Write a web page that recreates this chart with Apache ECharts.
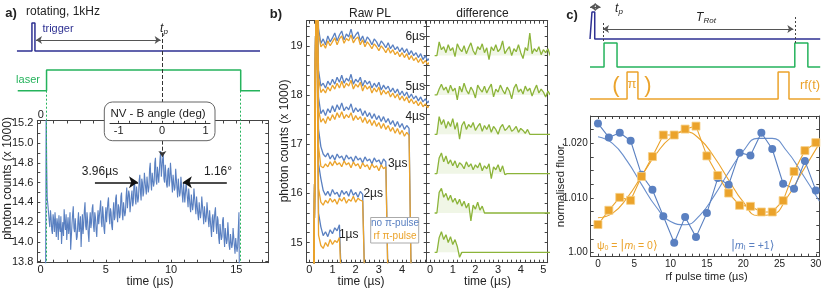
<!DOCTYPE html>
<html><head><meta charset="utf-8">
<script src="https://cdn.jsdelivr.net/npm/echarts@6/dist/echarts.min.js"></script>
<style>html,body{margin:0;padding:0;background:#fff}#c{width:830px;height:291px}</style>
</head><body><div id="c"></div>
<script>
// ---------- Panel a: photon counts vs time ----------
const aStart = 0.5, aStep = 0.05;
const aCounts = [
14.45,14.38,14.30,14.22,14.15,14.32,14.25,14.12,14.08,14.28,14.22,14.10,14.30,14.18,14.05,14.24,14.18,14.02,14.27,14.15,
14.10,14.26,13.98,14.12,14.20,14.06,14.33,14.20,14.12,14.28,14.02,14.16,14.25,14.08,14.15,14.30,13.92,14.05,14.18,14.28,
14.36,14.14,14.10,14.24,14.22,14.02,14.05,14.20,14.30,14.10,14.15,14.26,13.95,14.12,14.28,14.08,14.18,14.32,14.40,14.16,
14.12,14.30,14.22,14.08,14.00,14.20,14.30,14.14,14.20,14.34,14.38,14.16,14.10,14.30,14.25,14.12,14.05,14.22,14.32,14.18,
14.18,14.34,14.42,14.20,14.15,14.36,14.28,14.14,14.08,14.24,14.35,14.20,14.22,14.40,14.45,14.26,14.18,14.34,14.30,14.16,
14.12,14.30,14.40,14.22,14.25,14.44,14.48,14.28,14.20,14.38,14.35,14.24,14.28,14.46,14.50,14.30,14.22,14.40,14.42,14.26,
14.30,14.46,14.55,14.34,14.35,14.52,14.48,14.30,14.28,14.46,14.52,14.36,14.40,14.58,14.62,14.44,14.38,14.56,14.55,14.40,
14.45,14.62,14.68,14.50,14.42,14.64,14.60,14.46,14.50,14.70,14.72,14.54,14.48,14.66,14.65,14.50,14.55,14.74,14.80,14.60,
14.52,14.70,14.72,14.56,14.60,14.80,14.85,14.62,14.58,14.76,14.78,14.60,14.62,14.84,14.92,14.66,14.65,14.84,14.88,14.64,
14.60,14.78,14.80,14.58,14.55,14.72,14.75,14.56,14.62,14.80,14.82,14.60,14.50,14.68,14.70,14.52,14.55,14.74,14.72,14.54,
14.45,14.64,14.62,14.46,14.50,14.66,14.68,14.48,14.40,14.60,14.58,14.40,14.42,14.60,14.62,14.44,14.35,14.54,14.52,14.36,
14.30,14.48,14.48,14.32,14.38,14.54,14.55,14.36,14.28,14.46,14.45,14.28,14.22,14.40,14.40,14.24,14.30,14.46,14.48,14.28,
14.18,14.36,14.35,14.20,14.25,14.40,14.42,14.22,14.15,14.32,14.30,14.14,14.05,14.24,14.28,14.10,14.12,14.30,14.35,14.16,
14.08,14.26,14.22,14.04,13.98,14.18,14.20,14.02,14.05,14.22,14.25,14.06,13.95,14.14,14.15,13.98,14.02,14.20,14.18,13.96,
13.92,14.08,14.10,13.94,13.98,14.14,14.12,13.96,13.88,14.04,14.05,13.90,13.95];
const aRise = [[0.38,13.70],[0.42,15.40],[0.46,14.80]];
const aFall = [[15.20,14.30],[15.23,13.70]];
const aXLabels = [0,5,10,15];
const aYLabels = [13.8,14.0,14.2,14.4,14.6,14.8,15.0,15.2];
const nvLabels = [-1,0,1];
// schematic a (levels on schematic axis, time in µs)
const saTrigger = [[-1.82,4.9],[-0.67,4.9],[-0.67,7.7],[-0.44,7.7],[-0.44,4.9],[16.82,4.9]];
const saLaser = [[-1.76,0.93],[0.45,0.93],[0.45,3.0],[15.34,3.0],[15.34,0.93],[16.82,0.93]];
const saLaserMarks = [0.45,15.34];
const aPeakTime = 9.33;
// ---------- Panel b ----------
const bStart = 0.2, bStep = 0.1;
const bBlue6 = [14.0,21.0,19.35,19.05,19.14,19.02,19.20,19.08,19.16,19.26,19.10,19.22,19.30,19.12,19.24,19.18,19.34,19.14,19.22,19.28,19.10,19.20,19.06,19.18,19.12,19.02,19.14,19.08,18.98,19.10,19.04,18.96,19.06,18.94,19.02,18.92,18.98,18.88,18.96,18.86,18.94,18.82,18.90,18.80,18.86,18.76,18.84,18.72,18.80,18.70,18.76];
const bOrange6 = [14.0,21.0,19.25,18.98,19.04,18.95,19.10,19.00,19.08,19.16,19.02,19.14,19.20,19.05,19.15,19.10,19.22,19.06,19.14,19.18,19.02,19.12,18.98,19.08,19.02,18.94,19.04,18.98,18.90,19.00,18.94,18.86,18.96,18.85,18.92,18.82,18.88,18.78,18.86,18.76,18.84,18.72,18.80,18.70,18.76,18.66,18.74,18.64,18.70,18.62,18.68];
const bBlue5 = [14.0,21.0,18.50,18.18,18.24,18.14,18.28,18.20,18.32,18.22,18.36,18.26,18.40,18.24,18.34,18.28,18.42,18.22,18.32,18.26,18.36,18.18,18.30,18.22,18.28,18.14,18.24,18.16,18.26,18.10,18.20,18.12,18.18,18.06,18.14,18.04,18.12,18.00,18.08,17.98,18.06,17.94,18.02,17.92,17.98,17.88,17.96,17.86,17.92,17.84,17.90];
const bOrange5 = [14.0,21.0,18.35,18.05,18.12,18.04,18.16,18.08,18.20,18.12,18.24,18.14,18.28,18.14,18.24,18.18,18.30,18.12,18.22,18.16,18.26,18.08,18.20,18.12,18.18,18.04,18.14,18.06,18.16,18.00,18.10,18.02,18.08,17.96,18.04,17.94,18.02,17.90,17.98,17.88,17.96,17.84,17.92,17.82,17.88,17.78,17.86,17.76,17.82,17.74,17.80];
const bBlue4 = [14.0,21.0,17.95,17.62,17.70,17.58,17.72,17.64,17.78,17.66,17.80,17.70,17.84,17.68,17.76,17.70,17.82,17.64,17.74,17.66,17.72,17.58,17.68,17.56,17.64,17.52,17.62,17.50,17.58,17.46,17.56,17.44,17.52,17.40,17.48,17.36,17.46,17.34,17.42,17.30,17.38,17.32,14.0];
const bOrange4 = [14.0,21.0,17.70,17.45,17.52,17.42,17.56,17.48,17.60,17.50,17.64,17.54,17.66,17.52,17.60,17.54,17.64,17.48,17.58,17.50,17.56,17.44,17.54,17.42,17.50,17.38,17.48,17.36,17.44,17.32,17.42,17.30,17.38,17.26,17.34,17.22,17.32,17.20,17.28,17.16,17.24,17.18,14.0];
const bBlue3 = [14.0,21.0,17.30,16.95,16.80,16.74,16.82,16.70,16.78,16.68,16.80,16.72,16.76,16.66,16.78,16.70,16.74,16.64,16.76,16.68,16.72,16.62,16.74,16.66,16.70,16.60,16.72,16.64,16.68,16.58,16.70,16.64,14.0];
const bOrange3 = [14.0,21.0,16.95,16.55,16.52,16.60,16.54,16.64,16.56,16.66,16.58,16.62,16.54,16.66,16.58,16.62,16.52,16.64,16.56,16.60,16.50,16.62,16.54,16.58,16.48,16.60,16.52,16.56,16.46,16.58,16.50,16.54,14.0];
const bBlue2 = [14.0,21.0,16.60,16.30,16.06,15.96,16.04,15.94,16.08,15.98,16.02,15.92,16.06,15.98,16.04,15.94,16.08,15.96,16.02,15.92,16.04,15.98,14.0];
const bOrange2 = [14.0,21.0,16.10,15.82,15.76,15.86,15.80,15.90,15.82,15.88,15.78,15.90,15.84,15.92,15.80,15.88,15.84,15.94,15.82,15.90,15.86,15.84,14.0];
const bBlue1 = [14.0,21.0,15.60,15.32,15.14,15.22,15.12,15.26,15.18,15.30,15.24,15.36,14.0];
const bOrange1 = [14.0,21.0,15.15,14.94,14.88,15.00,14.92,15.06,14.96,15.04,15.00,15.10,14.0];
const bDiff6 = [18.80,18.80,19.08,18.92,18.98,18.86,19.02,18.90,18.96,18.78,19.04,18.94,18.88,19.00,18.84,18.96,19.06,18.90,18.82,18.98,18.92,19.04,18.86,18.96,18.72,18.98,18.90,19.02,18.88,18.94,19.10,18.84,18.92,18.98,18.80,18.94,18.88,19.02,18.86,18.74,18.96,18.90,19.26,18.84,18.94,18.88,18.98,18.82,18.92,18.86,18.94];
const bDiff5 = [18.00,18.00,18.12,18.22,18.10,18.16,18.04,18.20,18.08,18.14,17.90,18.18,18.06,18.24,18.10,18.02,18.16,18.08,17.94,18.20,18.12,18.06,18.18,18.04,18.14,18.22,17.96,18.12,18.06,18.20,18.10,18.02,18.16,18.08,17.92,18.14,18.22,18.06,18.12,18.02,18.18,18.08,18.14,17.98,18.10,18.20,18.04,18.12,18.06,17.96,18.08];
const bDiff4 = [17.20,17.20,17.56,17.40,17.50,17.32,17.46,17.36,17.52,17.30,17.44,17.10,17.38,17.46,17.30,17.40,17.34,17.44,17.28,17.36,17.42,17.26,17.38,17.30,17.40,17.24,17.36,17.30,17.20,17.34,17.40,17.28,17.32,17.38,17.26,17.30,17.36,17.24,17.32,17.28,17.22,17.30,17.20];
const bDiff3 = [16.40,16.40,16.72,16.82,16.64,16.76,16.60,16.68,16.56,16.66,16.52,16.62,16.58,16.50,16.64,16.54,16.60,16.48,16.58,16.52,16.62,16.46,16.56,16.50,16.60,16.30,16.54,16.48,16.58,16.44,16.56,16.38,16.40];
const bDiff2 = [15.60,15.60,16.02,16.10,15.92,16.00,15.86,15.96,15.82,15.90,15.78,15.88,15.74,15.84,15.70,15.80,15.44,15.76,15.68,15.82,15.66,15.74,15.60];
const bDiff1 = [14.80,14.80,15.10,15.22,15.06,15.16,15.00,15.12,14.96,15.06,14.92,14.70,14.80];
const bDiffBase = [14.8,15.6,16.4,17.2,18.0,18.8];
const bDiffEnd = 5.3;
const bDurLabels = ['1µs','2µs','3µs','4µs','5µs','6µs'];
const bXLabelsL = [0,1,2,3,4];
const bXLabelsR = [0,1,2,3,4,5];
const bYLabels = [15,16,17,18,19];
// ---------- Panel c ----------
const cTime = [0,1.5,3,4.5,6,7.5,9,10.5,12,13.5,15,16.5,18,19.5,21,22.5,24,25.5,27,28.5,30];
const cBlue = [1.02364,1.02109,1.02194,1.02048,1.01424,1.01152,1.00667,1.00182,1.00655,1.00285,1.00727,1.01364,1.01242,1.01830,1.01776,1.02194,1.01897,1.01261,1.01170,1.01679,1.01139];
const cOrange = [1.00515,1.00776,1.01012,1.00958,1.01394,1.01758,1.02152,1.02152,1.02261,1.02315,1.01770,1.01412,1.01091,1.00867,1.00848,1.00745,1.00745,1.00952,1.01485,1.01867,1.02012];
const cFitT = [0,2,4,6,8,10,12,14,16,18,20,22,24,26,28,30.5];
const cBlueFit = [1.0212,1.0200,1.0168,1.0125,1.0084,1.0057,1.0051,1.0068,1.0104,1.0147,1.0186,1.0209,1.0209,1.0186,1.0147,1.0094];
const cOrangeFit = [1.0064,1.0072,1.0100,1.0140,1.0180,1.0210,1.0221,1.0208,1.0175,1.0133,1.0093,1.0068,1.0070,1.0100,1.0145,1.0200];
const cXLabels = [0,5,10,15,20,25,30];
const cYLabels = [1.00,1.01,1.02];
// schematic c
const scTrigger = [[-1.1,6.1],[-0.83,6.1],[-0.83,8.8],[-0.45,8.8],[-0.45,6.1],[30.6,6.1]];
const scLaser = [[-1.1,3.3],[0.83,3.3],[0.83,5.7],[2.62,5.7],[2.62,3.3],[27.1,3.3],[27.1,5.7],[28.9,5.7],[28.9,3.3],[30.6,3.3]];
const scRf = [[-1.1,0.1],[4.0,0.1],[4.0,2.8],[5.5,2.8],[5.5,0.1],[24.8,0.1],[24.8,2.8],[26.3,2.8],[26.3,0.1],[30.6,0.1]];

// ---------- styling ----------
const FONT = '"Liberation Sans", Arial, sans-serif';
const BLUE = '#5a80c1', ORANGE = '#eba32b', GREEN_D = '#8cb43a', LASER = '#25b35c', NAVY = '#2e3192';
const FRAME = '#444';
const rng = (a,b,s)=>{const r=[];for(let v=a;v<=b+1e-9;v+=s)r.push(+v.toFixed(5));return r;};

function ax(grid, pos, min, max, ticks, labels, fmt, margin, fs){
  return {type:'value', gridIndex:grid, position:pos, min, max, scale:true,
    axisLine:{show:true,onZero:false,lineStyle:{color:FRAME,width:1}},
    axisTick:{show:true,inside:true,length:3,customValues:ticks,lineStyle:{color:FRAME}},
    axisLabel:{show:!!labels,customValues:labels||[],margin:margin||3,fontSize:fs||11,color:'#222',fontFamily:FONT,
      formatter:fmt||(v=>String(v))},
    splitLine:{show:false}};
}
function hid(grid,min,max){return {type:'value',gridIndex:grid,min,max,show:false,splitLine:{show:false}};}
const pts=(arr,s,st)=>arr.map((v,i)=>[+(s+i*st).toFixed(3),v]);

const G = {outerBoundsMode:'none', containLabel:false};
const grids = [
  Object.assign({left:37.3, top:120.5, width:231, height:142.2},G),  //0 A
  Object.assign({left:306.7, top:20.7, width:120, height:242},G),    //1 B1
  Object.assign({left:426.7, top:20.7, width:121, height:242},G),    //2 B2
  Object.assign({left:590.7, top:116, width:228.6, height:140.7},G), //3 C
  Object.assign({left:15, top:0, width:247, height:263},G),          //4 schematic a
  Object.assign({left:588, top:0, width:234, height:110},G),         //5 schematic c
  Object.assign({left:110, top:122.2, width:100, height:0.6},G)      //6 NV axis
];
const aXmin=-0.258,aXmax=17.45,aYmin=13.79,aYmax=15.228;
const bYmin=14.59,bYmax=19.51;
const cXmin=-1.0,cXmax=30.48,cYmin=0.99927,cYmax=1.025;
const xAxes = [
  ax(0,'bottom',aXmin,aXmax,rng(0,17,1),aXLabels,null,2),
  ax(0,'top',aXmin,aXmax,rng(0,17,1),null),
  ax(1,'bottom',-0.11,5.06,rng(0,5,0.2),bXLabelsL,null,2),
  ax(1,'top',-0.11,5.06,rng(0,5,0.2),null),
  ax(2,'bottom',-0.15,5.19,rng(0,5.1,0.2),bXLabelsR,null,2),
  ax(2,'top',-0.15,5.19,rng(0,5.1,0.2),null),
  ax(3,'bottom',cXmin,cXmax,rng(0,30,1),cXLabels,null,3,10),
  ax(3,'top',cXmin,cXmax,rng(0,30,1),null),
  hid(4,-1.969,16.973),
  hid(5,-1.377,30.846),
  {type:'value',gridIndex:6,position:'bottom',min:-1.2,max:1.1,z:60,
    axisLine:{show:true,lineStyle:{color:'#333',width:1}},
    axisTick:{show:true,inside:true,length:2,customValues:rng(-1,1,0.25),lineStyle:{color:'#333'}},
    axisLabel:{show:true,customValues:nvLabels,margin:3,fontSize:11,color:'#222',fontFamily:FONT},
    splitLine:{show:false}}
];
const yAxes = [
  ax(0,'left',aYmin,aYmax,rng(13.8,15.2,0.1),aYLabels,v=>v.toFixed(1),4),
  ax(0,'right',aYmin,aYmax,rng(13.8,15.2,0.1),null),
  ax(1,'left',bYmin,bYmax,rng(14.6,19.4,0.2),bYLabels,null,4),
  ax(1,'right',bYmin,bYmax,rng(14.6,19.4,0.2),null),
  ax(2,'left',bYmin,bYmax,rng(14.6,19.4,0.2),null),
  ax(2,'right',bYmin,bYmax,rng(14.6,19.4,0.2),null),
  ax(3,'left',cYmin,cYmax,rng(1.0,1.025,0.0025),cYLabels,v=>Math.abs(v-1)<1e-6?'1.00':v.toFixed(3),3,10),
  ax(3,'right',cYmin,cYmax,rng(1.0,1.025,0.0025),null),
  hid(4,-16.3,10),
  hid(5,-1,10),
  hid(6,0,1)
];

const series = [];
const base = {type:'line',symbol:'none',animation:false,silent:true};
// Panel a main trace
const aData = aRise.concat(pts(aCounts,aStart,aStep)).concat(aFall);
series.push(Object.assign({},base,{xAxisIndex:0,yAxisIndex:0,data:aData,
  lineStyle:{color:BLUE,width:1.1},
  markLine:{silent:true,animation:false,symbol:['none','arrow'],symbolSize:9,label:{show:false},
    lineStyle:{color:'#111',width:1.6,type:'solid'},
    data:[
      [{coord:[4.16,14.603]},{coord:[7.46,14.603]}],
      [{coord:[14.27,14.603]},{coord:[10.9,14.603]}],
      [{coord:[aPeakTime,15.024],lineStyle:{type:'dashed',width:1,color:'#333'},symbolSize:6},{coord:[aPeakTime,14.86],symbolSize:6}]
    ]}}));
// schematic a
series.push(Object.assign({},base,{xAxisIndex:8,yAxisIndex:8,clip:false,data:saTrigger,lineStyle:{color:NAVY,width:1.5},
  markLine:{silent:true,animation:false,symbol:['arrow','arrow'],symbolSize:6,label:{show:false},
    lineStyle:{color:'#555',width:1,type:'solid'},
    data:[
      [{coord:[-0.36,6.0]},{coord:[9.2,6.0]}],
      [{coord:[aPeakTime,6.7],symbol:'none',lineStyle:{type:'dashed',color:'#333',width:1}},{coord:[aPeakTime,-0.2],symbol:'none'}]
    ]}}));
series.push(Object.assign({},base,{xAxisIndex:8,yAxisIndex:8,clip:false,data:saLaser,lineStyle:{color:LASER,width:1.5},
  markLine:{silent:true,animation:false,symbol:['none','none'],label:{show:false},
    lineStyle:{color:LASER,width:1,type:[2,2]},
    data:saLaserMarks.map(t=>[{coord:[t,0.93]},{coord:[t,-16.3]}])}}));
// Panel b raw traces
const blues=[bBlue1,bBlue2,bBlue3,bBlue4,bBlue5,bBlue6];
const oranges=[bOrange1,bOrange2,bOrange3,bOrange4,bOrange5,bOrange6];
const diffs=[bDiff1,bDiff2,bDiff3,bDiff4,bDiff5,bDiff6];
blues.forEach(arr=>series.push(Object.assign({},base,{xAxisIndex:2,yAxisIndex:2,data:pts(arr,bStart,bStep),lineStyle:{color:BLUE,width:1.3}})));
oranges.forEach(arr=>series.push(Object.assign({},base,{xAxisIndex:2,yAxisIndex:2,data:pts(arr,bStart,bStep),lineStyle:{color:ORANGE,width:1.3}})));
diffs.forEach((arr,k)=>{
  const d=pts(arr,bStart,bStep); d.push([bDiffEnd,bDiffBase[k]]);
  series.push(Object.assign({},base,{xAxisIndex:4,yAxisIndex:4,data:d,lineStyle:{color:GREEN_D,width:1.3},
    areaStyle:{origin:bDiffBase[k],color:'rgba(150,190,80,0.2)'}}));
});
// schematic c
series.push(Object.assign({},base,{xAxisIndex:9,yAxisIndex:9,clip:false,data:scTrigger,lineStyle:{color:NAVY,width:1.5},
  markLine:{silent:true,animation:false,symbol:['arrow','arrow'],symbolSize:6,label:{show:false},
    lineStyle:{color:'#555',width:1,type:'solid'},
    data:[
      [{coord:[-1.1,9.3]},{coord:[0.35,9.3]}],
      [{coord:[0.69,7.1]},{coord:[26.9,7.1]}],
      [{coord:[0.76,7.7],symbol:'none',lineStyle:{type:[2,2],color:'#444'}},{coord:[0.76,5.7],symbol:'none'}],
      [{coord:[27.1,8.3],symbol:'none',lineStyle:{type:[2,2],color:'#444'}},{coord:[27.1,5.7],symbol:'none'}]
    ]}}));
series.push(Object.assign({},base,{xAxisIndex:9,yAxisIndex:9,clip:false,data:scLaser,lineStyle:{color:LASER,width:1.5}}));
series.push(Object.assign({},base,{xAxisIndex:9,yAxisIndex:9,clip:false,data:scRf,lineStyle:{color:ORANGE,width:1.5}}));
// Panel c
series.push(Object.assign({},base,{xAxisIndex:6,yAxisIndex:6,data:cFitT.map((t,i)=>[t,cBlueFit[i]]),smooth:0.5,lineStyle:{color:'#6a8fcc',width:1.1}}));
series.push(Object.assign({},base,{xAxisIndex:6,yAxisIndex:6,data:cFitT.map((t,i)=>[t,cOrangeFit[i]]),smooth:0.5,lineStyle:{color:ORANGE,width:1.1}}));
series.push(Object.assign({},base,{xAxisIndex:6,yAxisIndex:6,data:cTime.map((t,i)=>[t,cBlue[i]]),symbol:'circle',symbolSize:8,
  lineStyle:{color:BLUE,width:1.1},itemStyle:{color:BLUE}}));
series.push(Object.assign({},base,{xAxisIndex:6,yAxisIndex:6,data:cTime.map((t,i)=>[t,cOrange[i]]),symbol:'rect',symbolSize:8,
  lineStyle:{color:ORANGE,width:1.1},itemStyle:{color:ORANGE,borderColor:'#f6cf85',borderWidth:0.8}}));

// ---------- texts ----------
function T(x,y,text,opt){opt=opt||{};return {type:'text',x,y,z:100,rotation:opt.rot||0,
  style:{text,fill:opt.color||'#222',font:(opt.weight||'normal')+' '+(opt.size||12)+'px '+FONT,
    textAlign:opt.align||'center',textVerticalAlign:'middle',rich:opt.rich}};}
const richTp = {t:{fontStyle:'italic',fontSize:12,fontFamily:FONT,fill:'#222'},s:{fontStyle:'italic',fontSize:8,fontFamily:FONT,fill:'#222',verticalAlign:'bottom',padding:[6,0,0,0]}};
function ketRich(col){return {
  n:{fontSize:10.5,fontFamily:FONT,fill:col},
  i:{fontSize:10.5,fontStyle:'italic',fontFamily:FONT,fill:col},
  s:{fontSize:7,fontFamily:FONT,fill:col,padding:[5,0,0,0]},
  b:{fontSize:12,fontFamily:'"DejaVu Sans", "Noto Sans CJK SC", sans-serif',fill:col}};}
const graphics = [
  // panel a
  T(11,13.5,'a)',{weight:'bold',size:13}),
  T(63,12,'rotating, 1kHz'),
  T(58,29,'trigger',{color:NAVY,size:11}),
  T(164,29,'{t|t}{s|p}',{rich:richTp}),
  T(28,80,'laser',{color:LASER,size:11}),
  {type:'rect',z:50,shape:{x:104.3,y:102,width:110.7,height:38.7,r:8},style:{fill:'#fff',stroke:'#666',lineWidth:1}},
  T(158,114,'NV - B angle (deg)',{size:11.5}),
  T(100,171.5,'3.96µs',{size:12}),
  T(218,171.5,'1.16°',{size:12}),
  T(40.7,114.5,'0',{size:11}),
  T(8,178.5,'photon counts (x 1000)',{rot:Math.PI/2}),
  T(150,281.5,'time (µs)'),
  // panel b
  T(276,14.5,'b)',{weight:'bold',size:13}),
  T(370,13.5,'Raw PL'),
  T(482.5,13.5,'difference'),
  T(425,37,bDurLabels[5],{align:'right'}),
  T(425,86.5,bDurLabels[4],{align:'right'}),
  T(425,116.5,bDurLabels[3],{align:'right'}),
  T(407.5,163.5,bDurLabels[2],{align:'right'}),
  T(383,193.5,bDurLabels[1],{align:'right'}),
  T(358.5,235,bDurLabels[0],{align:'right'}),
  {type:'rect',z:90,shape:{x:370.7,y:217.5,width:48,height:25.5},style:{fill:'#fff',stroke:'#aaa',lineWidth:1}},
  T(395,223.5,'no π-pulse',{color:BLUE,size:10}),
  T(395,236.5,'rf π-pulse',{color:ORANGE,size:10}),
  T(285,141,'photon counts (x 1000)',{rot:Math.PI/2}),
  T(361,281.5,'time (µs)'),
  T(487.5,281.5,'time (µs)'),
  // panel c
  T(572,15,'c)',{weight:'bold',size:13}),
  T(619,9,'{t|t}{s|p}',{rich:richTp}),
  T(706,18,'{t|T}{s|Rot}',{rich:richTp}),
  T(616,86,'(',{color:ORANGE,size:22}),
  T(632,84,'π',{color:ORANGE,size:13}),
  T(648,86,')',{color:ORANGE,size:22}),
  T(810,85,'rf(t)',{color:ORANGE,size:13}),
  T(597,246,'{n|ψ}{s|0}{n| = }{b||}{i|m}{s|I}{n| = 0}{b|⟩}',{align:'left',rich:ketRich(ORANGE)}),
  T(731,246,'{b||}{i|m}{s|I}{n| = +1}{b|⟩}',{align:'left',rich:ketRich(BLUE)}),
  T(561,185,'normalised fluor.',{rot:Math.PI/2,size:11.5}),
  T(706.5,277,'rf pulse time (µs)',{size:11})
];

const chart = echarts.init(document.getElementById('c'),null,{renderer:'canvas'});
chart.setOption({animation:false,backgroundColor:'#fff',grid:grids,xAxis:xAxes,yAxis:yAxes,series,graphic:graphics});
</script></body></html>
